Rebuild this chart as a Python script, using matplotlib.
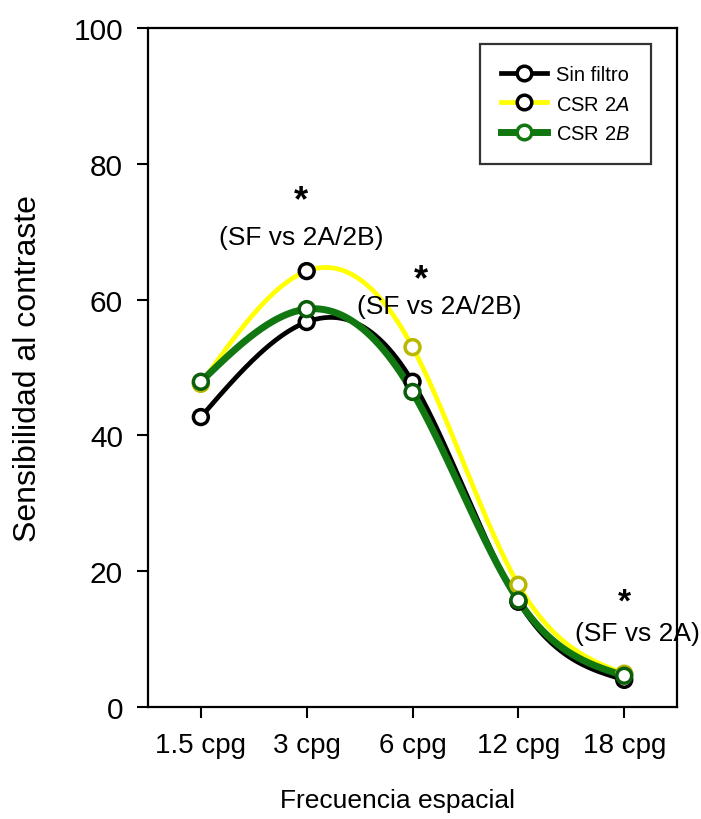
import numpy as np
import matplotlib
matplotlib.use("Agg")
import matplotlib.pyplot as plt
from matplotlib.lines import Line2D

plt.rcParams["font.family"] = ["Liberation Sans", "DejaVu Sans"]
plt.rcParams["mathtext.fontset"] = "custom"
plt.rcParams["mathtext.rm"] = "Liberation Sans"
plt.rcParams["mathtext.it"] = "Liberation Sans:italic"

# Data
frequencies = ["1.5 cpg", "3 cpg", "6 cpg", "12 cpg", "18 cpg"]
sin_filtro = [42.7, 56.7, 47.9, 15.5, 4.0]
csr_2a = [47.6, 64.2, 53.0, 18.0, 4.9]
csr_2b = [47.9, 58.6, 46.4, 15.7, 4.6]

legend_labels = ["Sin filtro", r"CSR $\mathit{2A}$", r"CSR $\mathit{2B}$"]


def natural_spline(x, y, n=300):
    """Natural cubic spline through (x, y), sampled on n points."""
    x = np.asarray(x, float)
    y = np.asarray(y, float)
    k = len(x)
    h = np.diff(x)
    A = np.zeros((k, k))
    b = np.zeros(k)
    A[0, 0] = A[-1, -1] = 1.0
    for i in range(1, k - 1):
        A[i, i - 1] = h[i - 1]
        A[i, i] = 2 * (h[i - 1] + h[i])
        A[i, i + 1] = h[i]
        b[i] = 3 * ((y[i + 1] - y[i]) / h[i] - (y[i] - y[i - 1]) / h[i - 1])
    c = np.linalg.solve(A, b)
    xs = np.linspace(x[0], x[-1], n)
    ys = np.empty_like(xs)
    for j, xv in enumerate(xs):
        i = min(np.searchsorted(x, xv, side="right") - 1, k - 2)
        dx = xv - x[i]
        bi = (y[i + 1] - y[i]) / h[i] - h[i] * (2 * c[i] + c[i + 1]) / 3
        di = (c[i + 1] - c[i]) / (3 * h[i])
        ys[j] = y[i] + bi * dx + c[i] * dx ** 2 + di * dx ** 3
    return xs, ys


fig = plt.figure(figsize=(7.01, 8.2), dpi=100)
ax = fig.add_axes([0.211, 0.1366, 0.755, 0.828])

xpos = np.arange(len(frequencies))

black = "#000000"
yellow = "#ffff00"
green = "#117711"

series = [
    (csr_2a, yellow, 3.4, ["#b8b800", black, "#b8b800", "#b8b800", "#b8b800"]),
    (sin_filtro, black, 3.4, [black] * 5),
    (csr_2b, green, 5.0, ["#0b5e0b"] * 5),
]

# Smooth curves first
for vals, color, lw, _ in series:
    xs, ys = natural_spline(xpos, vals)
    ax.plot(xs, ys, color=color, lw=lw, solid_capstyle="round", zorder=2)

# Markers on top of the curves
for vals, color, lw, edges in series:
    ax.scatter(xpos, vals, s=115, facecolors="white", edgecolors=edges,
               linewidths=2.5, zorder=3)

ax.set_xlim(-0.5, 4.5)
ax.set_ylim(0, 100)
ax.set_xticks(xpos)
ax.set_xticklabels(frequencies)
ax.set_yticks([0, 20, 40, 60, 80, 100])
ax.tick_params(axis="both", direction="out", length=8, width=1.5,
               pad=10, top=False, right=False)
ax.tick_params(axis="x", labelsize=20)
ax.tick_params(axis="y", labelsize=21.5)
for sp in ax.spines.values():
    sp.set_linewidth(1.6)

ax.set_ylabel("Sensibilidad al contraste", fontsize=23)
ax.yaxis.set_label_coords(-0.198, 0.5)
ax.set_xlabel("Frecuencia espacial", fontsize=19)
ax.xaxis.set_label_coords(0.472, -0.12)

# Significance annotations
ann_kw = dict(ha="center", va="center", fontsize=19, clip_on=False)
star_kw = dict(ha="center", va="center", fontsize=26, fontweight="bold")
ax.text(0.95, 74.6, "*", **star_kw)
ax.text(0.95, 69.2, "(SF vs 2A/2B)", **ann_kw)
ax.text(2.08, 63.0, "*", **star_kw)
ax.text(2.25, 59.1, "(SF vs 2A/2B)", **ann_kw)
ax.text(4.0, 15.5, "*", ha="center", va="center", fontsize=24,
        fontweight="bold")
ax.text(4.12, 10.9, "(SF vs 2A)", **ann_kw)

# Legend
handles = [
    Line2D([], [], color=black, lw=3.4, marker="o", ms=10.5, mfc="white",
           mec=black, mew=2.5),
    Line2D([], [], color=yellow, lw=3.4, marker="o", ms=10.5, mfc="white",
           mec=black, mew=2.5),
    Line2D([], [], color=green, lw=5.0, marker="o", ms=10.5, mfc="white",
           mec=green, mew=2.5),
]
leg = ax.legend(handles, legend_labels, loc="upper right",
                bbox_to_anchor=(0.95, 0.976), fontsize=14.5, frameon=True,
                fancybox=False, edgecolor="black", handlelength=2.3,
                handletextpad=0.4, labelspacing=0.5, borderpad=1.05,
                borderaxespad=0)
leg.get_frame().set_linewidth(1.6)

fig.savefig("out.png", dpi=100)
